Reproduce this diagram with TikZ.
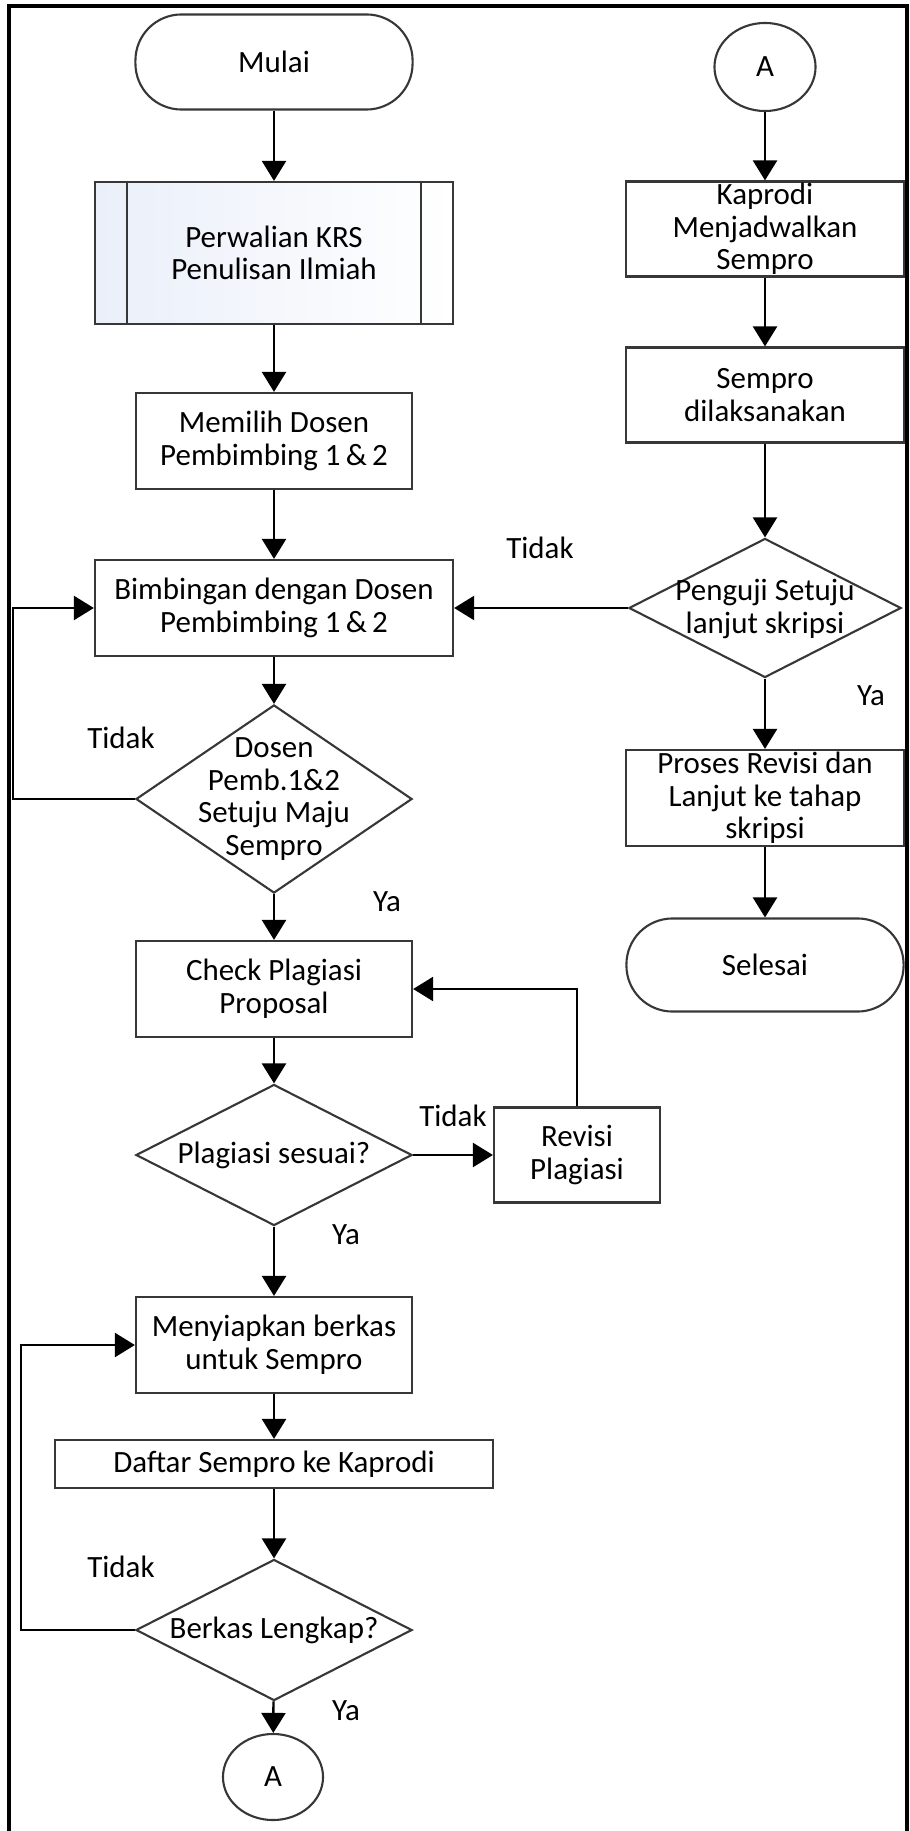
\documentclass[tikz,border=0pt]{standalone}
\usepackage{fontspec}
\setmainfont{Carlito}
\usetikzlibrary{shapes.geometric,arrows.meta}
\definecolor{subfill}{RGB}{234,239,249}
\definecolor{shapeline}{RGB}{55,55,55}
\tikzset{
  txt/.style={font=\fontsize{8.8pt}{9.3pt}\selectfont, align=center, inner sep=0pt},
  base/.style={txt, draw=shapeline, line width=0.6pt},
  proc/.style={base, rectangle, minimum width=2.76cm, minimum height=0.96cm},
  term/.style={base, rectangle, rounded corners=0.46cm, minimum width=2.77cm, minimum height=0.95cm},
  subproc/.style={proc, minimum width=3.58cm, minimum height=1.42cm, left color=subfill, right color=white},
  decision/.style={base, diamond, minimum width=2.76cm, minimum height=1.41cm},
  conn/.style={base, ellipse, minimum width=1.01cm, minimum height=0.88cm},
  flow/.style={line width=0.7pt, -{Triangle[length=0.2cm,width=0.24cm]}}
}
\begin{document}
\begin{tikzpicture}[x=0.01cm,y=-0.01cm]
    \useasboundingbox (0,0) rectangle (909,1831);
    \draw[line width=0.9pt] (9,6) rectangle (907,1840);

    % Left column
    \node[term] (mulai) at (274,62) {Mulai};
    \node[subproc] (perwalian) at (274,253) {Perwalian KRS\\Penulisan Ilmiah};
    \draw[shapeline, line width=0.6pt] ([xshift=0.33cm]perwalian.north west) -- ([xshift=0.33cm]perwalian.south west);
    \draw[shapeline, line width=0.6pt] ([xshift=-0.33cm]perwalian.north east) -- ([xshift=-0.33cm]perwalian.south east);
    \node[proc] (memilih) at (274,441) {Memilih Dosen\\Pembimbing 1\,\&\,2};
    \node[proc, minimum width=3.58cm] (bimbingan) at (274,608) {Bimbingan dengan Dosen\\Pembimbing 1\,\&\,2};
    \node[decision, minimum height=1.88cm] (dosen) at (274,799) {};
    \node[txt] (dosenTxt) at (dosen) {Dosen\\Pemb.1\&2\\Setuju Maju\\Sempro};
    \node[proc] (check) at (274,989) {Check Plagiasi\\Proposal};
    \node[decision] (plagiasi) at (274,1155) {};
    \node[txt] (plagiasiTxt) at (plagiasi) {Plagiasi sesuai?};
    \node[proc, minimum width=1.66cm, minimum height=0.95cm] (revisi) at (577,1155) {Revisi\\Plagiasi};
    \node[proc] (menyiapkan) at (274,1345) {Menyiapkan berkas\\untuk Sempro};
    \node[proc, minimum width=4.38cm, minimum height=0.48cm] (daftar) at (274,1464) {Daftar Sempro ke Kaprodi};
    \node[decision] (berkas) at (274,1630) {};
    \node[txt] (berkasTxt) at (berkas) {Berkas Lengkap?};
    \node[conn, minimum width=1.0cm, minimum height=0.86cm] (aBot) at (273,1777) {A};

    % Right column
    \node[conn] (aTop) at (765,67) {A};
    \node[proc, minimum width=2.77cm, minimum height=0.95cm] (kaprodi) at (765,229) {Kaprodi\\Menjadwalkan\\Sempro};
    \node[proc, minimum width=2.77cm, minimum height=0.95cm] (sempro) at (765,395) {Sempro\\dilaksanakan};
    \node[decision, minimum width=2.72cm, minimum height=1.39cm] (penguji) at (765,608) {};
    \node[txt] (pengujiTxt) at (765,609) {Penguji Setuju\\lanjut skripsi};
    \node[proc, minimum width=2.77cm] (proses) at (765,798) {Proses Revisi dan\\Lanjut ke tahap\\skripsi};
    \node[term, minimum height=0.93cm] (selesai) at (765,965) {Selesai};

    % Answers
    \node[txt] (tidakPenguji) at (540,548) {Tidak};
    \node[txt] (yaPenguji) at (871,696) {Ya};
    \node[txt] (tidakDosen) at (121,738) {Tidak};
    \node[txt] (yaDosen) at (387,902) {Ya};
    \node[txt] (tidakPlagiasi) at (453,1116) {Tidak};
    \node[txt] (yaPlagiasi) at (346,1235) {Ya};
    \node[txt] (tidakBerkas) at (121,1567) {Tidak};
    \node[txt] (yaBerkas) at (346,1711) {Ya};

    % Flow
    \foreach \a/\b in {mulai/perwalian, perwalian/memilih, memilih/bimbingan, bimbingan/dosen,
        dosen/check, check/plagiasi, plagiasi/menyiapkan, menyiapkan/daftar, daftar/berkas,
        berkas/aBot, aTop/kaprodi, kaprodi/sempro, sempro/penguji, penguji/proses, proses/selesai}
        \draw[flow] (\a) -- (\b);
    \draw[flow] (plagiasi.east) -- (revisi.west);
    \draw[flow] (revisi.north) |- (check.east);
    \draw[flow] (penguji.west) -- (bimbingan.east);
    \coordinate (dosenLoop) at (13,799);
    \coordinate (berkasLoop) at (21,1630);
    \draw[flow] (dosen.west) -- (dosenLoop) |- (bimbingan.west);
    \draw[flow] (berkas.west) -- (berkasLoop) |- (menyiapkan.west);
\end{tikzpicture}
\end{document}
